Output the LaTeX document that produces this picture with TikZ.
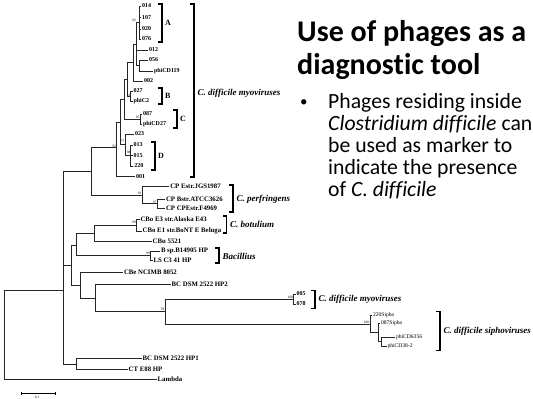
\documentclass[tikz,border=0pt]{standalone}
\usepackage{fontspec}
\setmainfont{Liberation Serif}
\newfontfamily\calibri[Ligatures=NoCommon]{Carlito}
\begin{document}
\begin{tikzpicture}[x=1pt,y=-1pt,
  edge/.style={line width=0.75pt,black!85},
  brk/.style={line width=1.1pt},
  lf/.style={anchor=west,inner sep=0.8pt,font=\fontsize{6}{6}\selectfont\bfseries},
  lfb/.style={anchor=west,inner sep=0.8pt,font=\fontsize{6.8}{7}\selectfont\bfseries},
  lfs/.style={anchor=west,inner sep=0.8pt,font=\fontsize{5.6}{6}\selectfont},
  bs/.style={inner sep=0pt,font=\fontsize{3.5}{3.5}\selectfont},
  sp/.style={anchor=west,inner sep=0pt,font=\fontsize{9}{9}\selectfont\bfseries\itshape},
  cl/.style={anchor=west,inner sep=0pt,font=\fontsize{8}{8}\selectfont\bfseries},
  ttl/.style={anchor=base west,inner sep=0pt,font=\calibri\bfseries\fontsize{30}{30}\selectfont},
  bul/.style={anchor=base west,inner sep=0pt,font=\calibri\fontsize{21.7}{22}\selectfont}]
\useasboundingbox (0,0) rectangle (533,399);
\fill[white] (0,0) rectangle (533,399);
% ---------- internal nodes ----------
\coordinate (r) at (4.3,335);
\coordinate (P) at (63.3,290.7);
\coordinate (X) at (91,171.5);
\coordinate (M) at (116.7,147.7);
\coordinate (N1) at (120,122);
\coordinate (N2) at (124,99);
\coordinate (AB) at (127,79);
\coordinate (A3) at (133,62.5);
\coordinate (A2) at (136.5,44);
\coordinate (A) at (139,22.5);
\coordinate (N56) at (139,65.5);
\coordinate (B) at (130.7,96);
\coordinate (C) at (140,119);
\coordinate (MD2) at (125,144.75);
\coordinate (D) at (130.7,155.5);
\coordinate (Perf) at (142.7,195);
\coordinate (Perf2) at (157.3,203.5);
\coordinate (Q) at (71,265);
\coordinate (Q1) at (76,245);
\coordinate (Bot) at (94,233);
\coordinate (Bot2) at (136.7,225);
\coordinate (Bac) at (150.7,255.5);
\coordinate (Q2) at (80,285);
\coordinate (H) at (95,298);
\coordinate (N78) at (165.7,311.7);
\coordinate (My2) at (293.3,299);
\coordinate (S1) at (370,324);
\coordinate (S2) at (378,332.5);
\coordinate (S3) at (381,341.5);
\coordinate (R) at (76,364.3);
% ---------- leaf tips ----------
\coordinate (tLambda) at (156.7,379.3);
\coordinate (t014) at (141,6);
\coordinate (t107) at (141,17.7);
\coordinate (t020) at (141,29);
\coordinate (t076) at (141,39);
\coordinate (t012) at (148,50);
\coordinate (t056) at (148,60);
\coordinate (tphiCD119) at (153,71);
\coordinate (t002) at (143,81);
\coordinate (t027) at (132.5,91);
\coordinate (tphiC2) at (132.5,101.5);
\coordinate (t087) at (142,114);
\coordinate (tphiCD27) at (142,124);
\coordinate (t023) at (134,134);
\coordinate (t013) at (132.5,145);
\coordinate (t015) at (132.5,155.5);
\coordinate (t220) at (133.3,166);
\coordinate (t001) at (135,176.7);
\coordinate (tCPE) at (169.3,186.7);
\coordinate (tCPB) at (165,199);
\coordinate (tCPC) at (165,208);
\coordinate (tCBoE3) at (139.5,219);
\coordinate (tCBoE1) at (141.7,231);
\coordinate (tCBu) at (151.7,241);
\coordinate (tBsp) at (160,251);
\coordinate (tLS) at (152.5,260);
\coordinate (tCBe) at (123,272.7);
\coordinate (tHP2) at (170.7,284);
\coordinate (t005) at (295.5,294);
\coordinate (t078) at (295.5,304);
\coordinate (t220S) at (372,315);
\coordinate (t087S) at (380,323.5);
\coordinate (t6356) at (395,337);
\coordinate (t382) at (386.5,346);
\coordinate (tHP1) at (141.7,358.3);
\coordinate (tCT) at (127.7,369);
% ---------- edges ----------
\foreach \p/\c in {r/P,r/tLambda,P/X,P/Q,P/R,X/M,X/Perf,M/N1,M/t001,N1/N2,N1/MD2,
  N2/AB,N2/C,AB/A3,AB/B,A3/A2,A3/t002,A2/A,A2/t012,A2/N56,N56/t056,N56/tphiCD119,
  A/t014,A/t107,A/t020,A/t076,B/t027,B/tphiC2,C/t087,C/tphiCD27,MD2/t023,MD2/D,
  D/t013,D/t015,D/t220,Perf/tCPE,Perf/Perf2,Perf2/tCPB,Perf2/tCPC,Q/Q1,Q/Q2,
  Q1/Bot,Q1/Bac,Bot/Bot2,Bot/tCBu,Bot2/tCBoE3,Bot2/tCBoE1,Bac/tBsp,Bac/tLS,
  Q2/tCBe,Q2/H,H/tHP2,H/N78,N78/My2,N78/S1,My2/t005,My2/t078,S1/t220S,S1/S2,
  S2/t087S,S2/S3,S3/t6356,S3/t382,R/tHP1,R/tCT}
  \draw[edge] (\p) |- (\c);
% ---------- leaf labels ----------
\node[lf] (l014) at (t014) {014};
\node[lf] (l107) at (t107) {107};
\node[lf] (l020) at (t020) {020};
\node[lf] (l076) at (t076) {076};
\node[lf] (l012) at (t012) {012};
\node[lf] (l056) at (t056) {056};
\node[lf] (lphiCD119) at (tphiCD119) {phiCD119};
\node[lf] (l002) at (t002) {002};
\node[lf] (l027) at (t027) {027};
\node[lf] (lphiC2) at (tphiC2) {phiC2};
\node[lf] (l087) at (t087) {087};
\node[lf] (lphiCD27) at (tphiCD27) {phiCD27};
\node[lf] (l023) at (t023) {023};
\node[lf] (l013) at (t013) {013};
\node[lf] (l015) at (t015) {015};
\node[lf] (l220) at (t220) {220};
\node[lf] (l001) at (t001) {001};
\node[lfb] (lCPE) at (tCPE) {CP Estr.JGS1987};
\node[lfb] (lCPB) at (tCPB) {CP Bstr.ATCC3626};
\node[lfb] (lCPC) at (tCPC) {CP CPEstr.F4969};
\node[lfb] (lCBoE3) at (tCBoE3) {CBo E3 str.Alaska E43};
\node[lfb] (lCBoE1) at (tCBoE1) {CBo E1 str.BoNT E Beluga};
\node[lfb] (lCBu) at (tCBu) {CBu 5521};
\node[lfb] (lBsp) at (tBsp) {B sp.B14905 HP};
\node[lfb] (lLS) at (tLS) {LS C3 41 HP};
\node[lfb] (lCBe) at (tCBe) {CBe NCIMB 8052};
\node[lfb] (lHP2) at (tHP2) {BC DSM 2522 HP2};
\node[lf] (l005) at (t005) {005};
\node[lf] (l078) at (t078) {078};
\node[lfs] (l220S) at (t220S) {220Sipho};
\node[lfs] (l087S) at (t087S) {087Sipho};
\node[lfs] (l6356) at (t6356) {phiCD6356};
\node[lfs] (l382) at (t382) {phiCD38-2};
\node[lfb] (lHP1) at (tHP1) {BC DSM 2522 HP1};
\node[lfb] (lCT) at (tCT) {CT E88 HP};
\node[lfb] (lLambda) at (tLambda) {Lambda};
% ---------- bootstrap values ----------
\node[bs] (b1) at (134,20) {92};
\node[bs] (b2) at (128.5,95) {91};
\node[bs] (b3) at (137.5,117) {95};
\node[bs] (b4) at (122.5,141) {77};
\node[bs] (b5) at (128.5,152) {98};
\node[bs] (b6) at (114,146) {92};
\node[bs] (b7) at (139.5,193) {93};
\node[bs] (b8) at (154.5,202) {97};
\node[bs] (b9) at (134,222) {99};
\node[bs] (b10) at (148,253) {99};
\node[bs] (b11) at (162.5,309.5) {78};
\node[bs] (b12) at (290.5,297) {100};
\node[bs] (b13) at (366.5,322) {100};
% ---------- brackets ----------
\foreach \x/\ya/\yb in {162/4/42, 194/4/177, 162/88/104, 177/110/128, 155/142/170,
  233/185/212, 226.7/216/233, 219/248/263, 315/290.7/308.3, 440/311.7/350.7}
  \draw[brk] (\x-4,\ya) -- (\x,\ya) -- (\x,\yb) -- (\x-4,\yb);
\node[cl] (kA) at (165,23) {A};
\node[cl] (kB) at (165,96) {B};
\node[cl] (kC) at (180,119) {C};
\node[cl] (kD) at (158,156) {D};
\node[sp] (s1) at (197.5,93) {C. difficile myoviruses};
\node[sp] (s2) at (236.5,199) {C. perfringens};
\node[sp] (s3) at (230,224.5) {C. botulium};
\node[sp] (s4) at (222.5,256) {Bacillius};
\node[sp] (s5) at (318.5,299.5) {C. difficile myoviruses};
\node[sp] (s6) at (443.5,331) {C. difficile siphoviruses};
% ---------- scale bar ----------
\draw[line width=0.6pt] (21.7,393) -- (55,393);
\draw[line width=0.6pt] (21.7,391.5) -- (21.7,394.5) (55,391.5) -- (55,394.5);
\node[bs] (scl) at (37,397.5) {0.1};
% ---------- text panel ----------
\node[ttl] (t1) at (297,41) {Use of phages as a};
\node[ttl] (t2) at (297,74) {diagnostic tool};
\node[anchor=base west,inner sep=0pt,font=\calibri\fontsize{15}{15}\selectfont] (dot) at (300,106) {•};
\node[bul] (p1) at (328,108) {Phages residing inside};
\node[bul] (p2) at (328,130) {\itshape Clostridium difficile\upshape{} can};
\node[bul] (p3) at (328,152) {be used as marker to};
\node[bul] (p4) at (328,174) {indicate the presence};
\node[bul] (p5) at (328,196) {of \itshape C. difficile};
\end{tikzpicture}
\end{document}
